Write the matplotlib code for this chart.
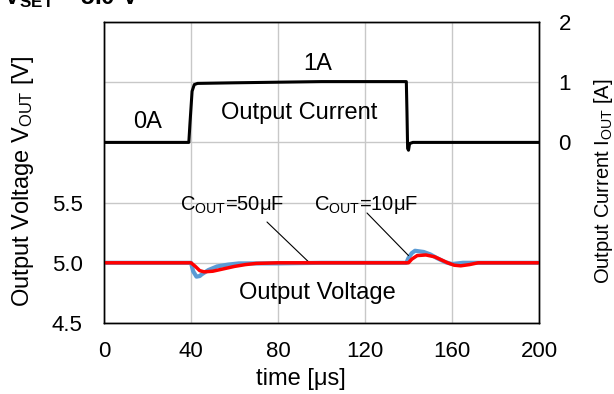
import matplotlib
matplotlib.use("Agg")
import matplotlib.pyplot as plt

plt.rcParams['font.family'] = ['Liberation Sans', 'DejaVu Sans']
plt.rcParams['mathtext.fontset'] = 'custom'
plt.rcParams['mathtext.rm'] = 'Liberation Sans'
plt.rcParams['mathtext.it'] = 'Liberation Sans'
plt.rcParams['mathtext.bf'] = 'Liberation Sans:bold'

# Output current (right axis, A)
t_cur = [0, 39, 39.5, 40.5, 41.5, 43, 60, 80, 100, 120, 139, 139.3, 139.6, 140, 140.5, 142, 200]
i_cur = [0, 0, 0.3, 0.85, 0.96, 0.98, 0.99, 1.0, 1.01, 1.01, 1.01, 0.5, -0.1, -0.13, -0.02, 0, 0]

# Output voltage, COUT = 10 uF (blue)
t_v10 = [0, 40, 41, 42.5, 44, 45, 48, 52, 57, 62, 80, 100, 139, 140, 141.5, 143, 147, 150, 153, 157, 160, 165, 200]
v_10 = [5.0, 5.0, 4.93, 4.885, 4.89, 4.905, 4.94, 4.97, 4.985, 4.995, 4.995, 5.0, 5.0, 5.04, 5.08, 5.10, 5.09, 5.07, 5.04, 5.005, 4.99, 5.0, 5.0]

# Output voltage, COUT = 50 uF (red)
t_v50 = [0, 40, 42, 44, 46, 50, 55, 60, 65, 70, 80, 100, 140, 141.5, 144, 148, 152, 155, 158, 161, 164, 168, 172, 200]
v_50 = [5.0, 5.0, 4.97, 4.935, 4.925, 4.93, 4.95, 4.97, 4.985, 4.995, 5.0, 5.0, 5.0, 5.03, 5.06, 5.065, 5.05, 5.025, 5.0, 4.98, 4.975, 4.985, 5.0, 5.0]

x_ticks = [0, 40, 80, 120, 160, 200]
v_ticks = [4.5, 5.0, 5.5]
i_ticks = [0, 1, 2]

fig = plt.figure(figsize=(6.14, 3.94), dpi=100)
ax = fig.add_axes([104/614, 1-323/394, 435/614, 301/394])
ax2 = ax.twinx()

ax.set_xlim(0, 200)
ax.set_ylim(4.5, 7.0)
ax2.set_ylim(-3, 2)

ax.set_xticks(x_ticks)
grid_v = [4.5, 5.0, 5.5, 6.0, 6.5, 7.0]
ax.set_yticks(grid_v)
ax.set_yticklabels([f'{v:.1f}' if v in v_ticks else '' for v in grid_v])
ax2.set_yticks(i_ticks)
ax2.set_yticklabels([str(v) for v in i_ticks])

ax.grid(True, color='#c8c8c8', linewidth=1.0)
ax.set_axisbelow(True)

ax.plot(t_v10, v_10, color='#5b9bd5', linewidth=3.0, zorder=3)
ax.plot(t_v50, v_50, color='#ff0000', linewidth=2.5, zorder=4)
ax2.plot(t_cur, i_cur, color='black', linewidth=2.2)

fs = 16
ax.tick_params(axis='both', length=0, labelsize=fs)
ax.tick_params(axis='y', pad=15.5)
ax.tick_params(axis='x', pad=13)
ax2.tick_params(axis='y', length=0, labelsize=fs, pad=14)

for a in (ax, ax2):
    for s in a.spines.values():
        s.set_linewidth(1.0)
        s.set_color('black')

ax.set_xlabel('time [μs]', fontsize=17)
ax.xaxis.set_label_coords(0.453, -0.1495)
ax.set_ylabel('Output Voltage V$_{\\rm OUT}$ [V]', fontsize=17)
ax.yaxis.set_label_coords(-0.156, 0.47)
ax2.set_ylabel('Output Current I$_{\\rm OUT}$ [A]', fontsize=14.5)
ax2.yaxis.set_label_coords(1.122, 0.472)

def px(x, y):
    # convert pixel coords of the figure to figure fraction
    return x/614, 1 - y/394

fs_in = 17
fig.text(*px(148, 122), '0A', fontsize=fs_in, ha='center', va='center')
fig.text(*px(318, 64), '1A', fontsize=fs_in, ha='center', va='center')
fig.text(*px(299, 113), 'Output Current', fontsize=fs_in, ha='center', va='center')
fig.text(*px(317, 293), 'Output Voltage', fontsize=fs_in, ha='center', va='center')

fs_small = 14.5
fig.text(*px(232, 205), 'C$_{\\rm OUT}$=50μF', fontsize=fs_small, ha='center', va='center')
fig.text(*px(366, 205), 'C$_{\\rm OUT}$=10μF', fontsize=fs_small, ha='center', va='center')
ax.annotate('', xy=(94.5, 5.0), xytext=px(267, 222), textcoords='figure fraction',
            arrowprops=dict(arrowstyle='-', color='black', lw=0.8, shrinkA=0, shrinkB=0))
ax.annotate('', xy=(140.0, 5.06), xytext=px(367, 213), textcoords='figure fraction',
            arrowprops=dict(arrowstyle='-', color='black', lw=0.8, shrinkA=0, shrinkB=0))

fig.text(3/614, 1-4/394, '$\\mathbf{V_{SET}}$ = 5.0 V', fontsize=17.5, ha='left', va='baseline',
         fontweight='bold')

fig.savefig('out.png', dpi=100)
